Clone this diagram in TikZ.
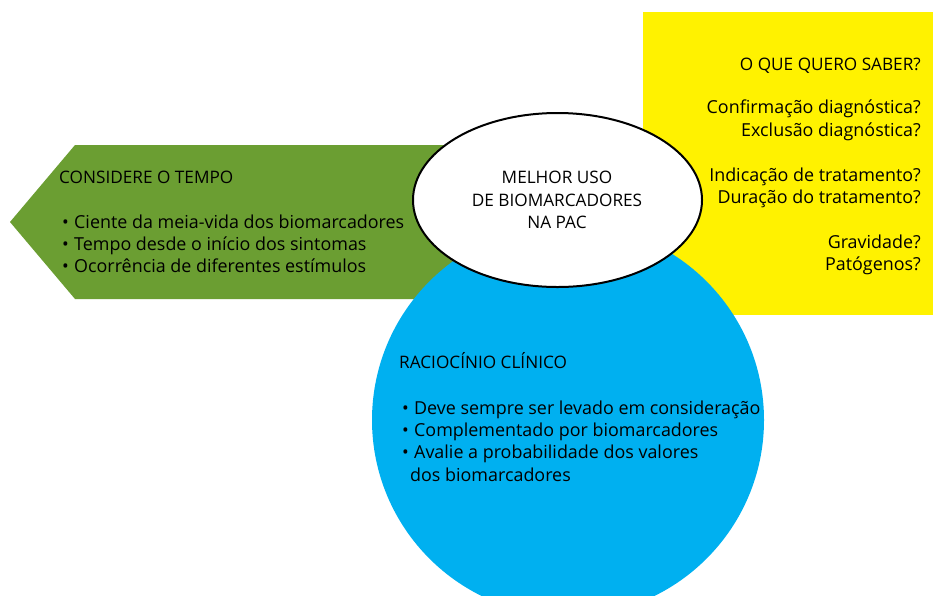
\documentclass[tikz,border=0pt]{standalone}
\usepackage{fontspec}
\setmainfont{Open Sans}
\usetikzlibrary{shapes.geometric}
\definecolor{grn}{RGB}{107,158,50}
\definecolor{ylw}{RGB}{255,242,0}
\definecolor{blu}{RGB}{0,176,240}
\begin{document}
\begin{tikzpicture}[x=1pt,y=-1pt,
  txt/.style={inner sep=0pt, font=\fontsize{17.9}{22.5}\selectfont},
  captxt/.style={font=\fontsize{17.2}{22.5}\selectfont},
  lt/.style={txt, anchor=base west},
  rt/.style={txt, anchor=base east},
  ct/.style={txt, anchor=base}]
\useasboundingbox (0,0) rectangle (933,595);
\clip (0,0) rectangle (933,595);
\fill[white] (0,0) rectangle (933,595);
% shapes
\fill[grn] (10,222) -- (75,145) -- (470,145) -- (470,299) -- (75,299) -- cycle;
\fill[ylw] (643,12) rectangle (933,315);
\node[circle, fill=blu, minimum size=392pt, inner sep=0pt] (circ) at (568,420) {};
\node[ellipse, draw=black, line width=2pt, fill=white, minimum width=289pt, minimum height=174pt, inner sep=0pt] (ell) at (557.5,200) {};
% green text
\node[lt, captxt] (g0) at (59,183) {CONSIDERE O TEMPO};
\node[lt] (g1) at (62,228) {\makebox[12pt][l]{•}Ciente da meia-vida dos biomarcadores};
\node[lt] (g2) at (62,250) {\makebox[12pt][l]{•}Tempo desde o início dos sintomas};
\node[lt] (g3) at (62,272) {\makebox[12pt][l]{•}Ocorrência de diferentes estímulos};
% ellipse text
\node[ct, captxt] (e1) at (557,183) {MELHOR USO};
\node[ct, captxt] (e2) at (557,206) {DE BIOMARCADORES};
\node[ct, captxt] (e3) at (557,228) {NA PAC};
% yellow text
\node[rt, captxt] (y0) at (921,70) {O QUE QUERO SABER?};
\node[rt] (y1) at (921,113) {Confirmação diagnóstica?};
\node[rt] (y2) at (921,136) {Exclusão diagnóstica?};
\node[rt] (y3) at (921,181) {Indicação de tratamento?};
\node[rt] (y4) at (921,203) {Duração do tratamento?};
\node[rt] (y5) at (921,248) {Gravidade?};
\node[rt] (y6) at (921,270) {Patógenos?};
% blue text
\node[lt, captxt] (b0) at (399,368) {RACIOCÍNIO CLÍNICO};
\node[lt] (b1) at (402,414) {\makebox[12pt][l]{•}Deve sempre ser levado em consideração};
\node[lt] (b2) at (402,436) {\makebox[12pt][l]{•}Complementado por biomarcadores};
\node[lt] (b3) at (402,458) {\makebox[12pt][l]{•}Avalie a probabilidade dos valores};
\node[lt] (b4) at (410,481) {dos biomarcadores};
\end{tikzpicture}
\end{document}
